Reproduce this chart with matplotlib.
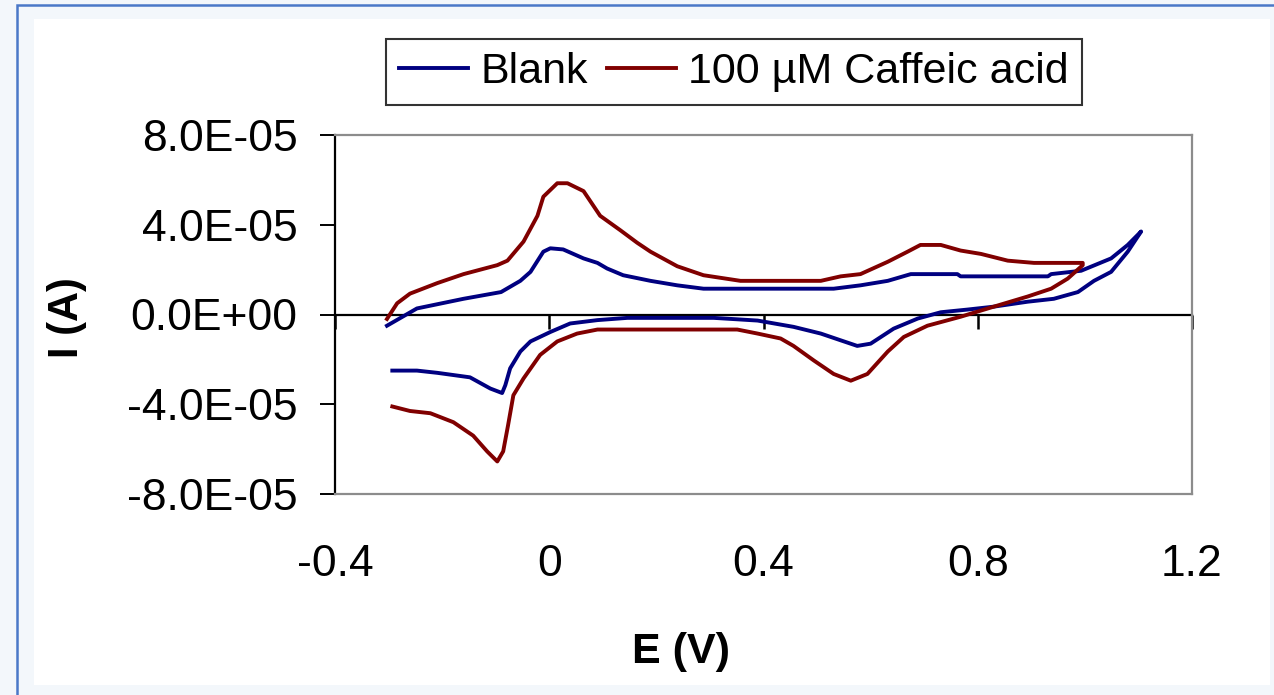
import matplotlib
matplotlib.use("Agg")
import matplotlib.pyplot as plt
from matplotlib.patches import Rectangle
from matplotlib.ticker import FuncFormatter, FixedLocator, NullFormatter
import numpy as np

plt.rcParams["font.family"] = ["Liberation Sans", "DejaVu Sans"]

# Cyclic voltammograms: potential (V) and current (x1e-5 A), forward then reverse sweep
blank_E = [-0.303, -0.247, -0.16, -0.09, -0.054, -0.035, -0.011, 0.002, 0.026, 0.064,
           0.09, 0.108, 0.138, 0.189, 0.239, 0.288, 0.432, 0.531, 0.581, 0.632, 0.675,
           0.762, 0.768, 0.931, 0.937, 0.993, 1.049, 1.08, 1.105,
           1.08, 1.049, 1.017, 0.987, 0.942, 0.893, 0.83, 0.781, 0.731, 0.688, 0.643,
           0.6, 0.575, 0.544, 0.507, 0.456, 0.432, 0.389, 0.307, 0.146, 0.09, 0.039,
           0.002, -0.035, -0.054, -0.073, -0.082, -0.088, -0.11, -0.148, -0.209,
           -0.247, -0.293]
blank_I = [-0.5, 0.27, 0.7, 1.0, 1.5, 1.9, 2.8, 2.95, 2.9, 2.5,
           2.3, 2.05, 1.75, 1.5, 1.3, 1.15, 1.15, 1.15, 1.3, 1.5, 1.8,
           1.8, 1.7, 1.7, 1.8, 1.95, 2.5, 3.1, 3.7,
           2.8, 1.9, 1.5, 1.0, 0.7, 0.57, 0.35, 0.22, 0.1, -0.18, -0.63,
           -1.3, -1.4, -1.15, -0.85, -0.55, -0.45, -0.27, -0.15, -0.15, -0.25, -0.4,
           -0.78, -1.2, -1.65, -2.4, -3.15, -3.5, -3.3, -2.8, -2.6,
           -2.5, -2.5]

caffeic_E = [-0.303, -0.284, -0.26, -0.209, -0.16, -0.097, -0.078, -0.048, -0.022, -0.011,
             0.015, 0.034, 0.064, 0.095, 0.133, 0.164, 0.189, 0.239, 0.288, 0.357,
             0.507, 0.544, 0.581, 0.632, 0.669, 0.693, 0.731, 0.768, 0.806, 0.856,
             0.905, 0.996,
             0.996, 0.968, 0.937, 0.893, 0.83, 0.768, 0.706, 0.662, 0.632, 0.594,
             0.563, 0.531, 0.494, 0.456, 0.432, 0.389, 0.351, 0.09, 0.052, 0.015,
             -0.017, -0.048, -0.067, -0.077, -0.086, -0.097, -0.116, -0.142, -0.179,
             -0.222, -0.26, -0.293]
caffeic_I = [-0.2, 0.5, 0.93, 1.4, 1.8, 2.2, 2.4, 3.25, 4.4, 5.25,
             5.85, 5.85, 5.5, 4.4, 3.75, 3.2, 2.8, 2.15, 1.75, 1.5,
             1.5, 1.7, 1.8, 2.35, 2.8, 3.1, 3.1, 2.85, 2.7, 2.4,
             2.3, 2.3,
             2.2, 1.6, 1.15, 0.8, 0.35, -0.1, -0.5, -1.0, -1.65, -2.65,
             -2.95, -2.65, -2.05, -1.4, -1.07, -0.85, -0.67, -0.67, -0.85, -1.2,
             -1.8, -2.85, -3.6, -4.95, -6.1, -6.55, -6.1, -5.4, -4.8,
             -4.4, -4.3, -4.1]

series_labels = ["Blank", "100 µM Caffeic acid"]
series_colors = ["#000080", "#800000"]
x_ticks = [-0.4, 0.0, 0.4, 0.8, 1.2]
x_tick_labels = ["-0.4", "0", "0.4", "0.8", "1.2"]
y_ticks = [-8e-5, -4e-5, 0.0, 4e-5, 8e-5]

W, H = 1274, 695
fig = plt.figure(figsize=(W / 100, H / 100), dpi=100)
fig.patch.set_facecolor("#F3F7FB")

# Chart frame: blue outline and white chart area (behind the axes)
fig.patches.append(Rectangle((17 / W, -0.2), 2.0, 1.2 - 5 / H, transform=fig.transFigure,
                             facecolor="none", edgecolor="#4A78C8", linewidth=1.8,
                             zorder=-3))
fig.patches.append(Rectangle((34 / W, 1 - 685 / H), (1270 - 34) / W, (685 - 19) / H,
                             transform=fig.transFigure, facecolor="white",
                             edgecolor="none", zorder=-2))

ax = fig.add_axes([335 / W, 1 - 494 / H, (1192 - 335) / W, (494 - 135) / H])
ax.set_facecolor("none")

scale = 1e-5
for E, I, lab, col in [(blank_E, blank_I, series_labels[0], series_colors[0]),
                       (caffeic_E, caffeic_I, series_labels[1], series_colors[1])]:
    ax.plot(E, np.asarray(I) * scale, color=col, linewidth=2.8, label=lab,
            solid_joinstyle="round", zorder=3)

ax.set_xlim(-0.4, 1.2)
ax.set_ylim(-8e-5, 8e-5)

# Plot-area border
for side in ["top", "right", "bottom"]:
    ax.spines[side].set_color("#8C8C8C")
    ax.spines[side].set_linewidth(1.6)
ax.spines["left"].set_color("black")
ax.spines["left"].set_linewidth(1.6)

# Y axis
ax.yaxis.set_major_locator(FixedLocator(y_ticks))
ax.yaxis.set_major_formatter(FuncFormatter(lambda v, p: f"{v:.1E}"))
ax.tick_params(axis="y", direction="out", length=11, width=1.4, pad=16,
               labelsize=32, colors="black")

# X tick labels at the bottom of the plot area
ax.xaxis.set_major_locator(FixedLocator(x_ticks))
ax.set_xticklabels(x_tick_labels)
ax.tick_params(axis="x", length=0, pad=36, labelsize=32)

# Horizontal axis line crossing at I = 0 with its tick marks
sec = ax.secondary_xaxis(0.5)
sec.set_alignment("bottom")
sec.spines["bottom"].set_color("black")
sec.spines["bottom"].set_linewidth(1.6)
sec.xaxis.set_major_locator(FixedLocator(x_ticks))
sec.xaxis.set_major_formatter(NullFormatter())
sec.tick_params(axis="x", direction="out", length=10, width=1.8)

fig.text(681 / W, 1 - 652 / H, "E (V)", fontsize=31, fontweight="bold",
         ha="center", va="center")
fig.text(67 / W, 1 - 318 / H, "I (A)", fontsize=30, fontweight="bold",
         ha="center", va="center", rotation=90)

leg = fig.legend(loc="center", bbox_to_anchor=(734 / W, 1 - 72 / H), ncol=2,
                 fontsize=31, frameon=True, fancybox=False, handlelength=1.6,
                 handletextpad=0.28, columnspacing=0.45, borderpad=0.3,
                 borderaxespad=0)
leg.get_frame().set_edgecolor("black")
leg.get_frame().set_linewidth(1.5)
for h in leg.get_lines():
    h.set_linewidth(2.8)

fig.savefig("out.png", dpi=100, facecolor=fig.get_facecolor())
